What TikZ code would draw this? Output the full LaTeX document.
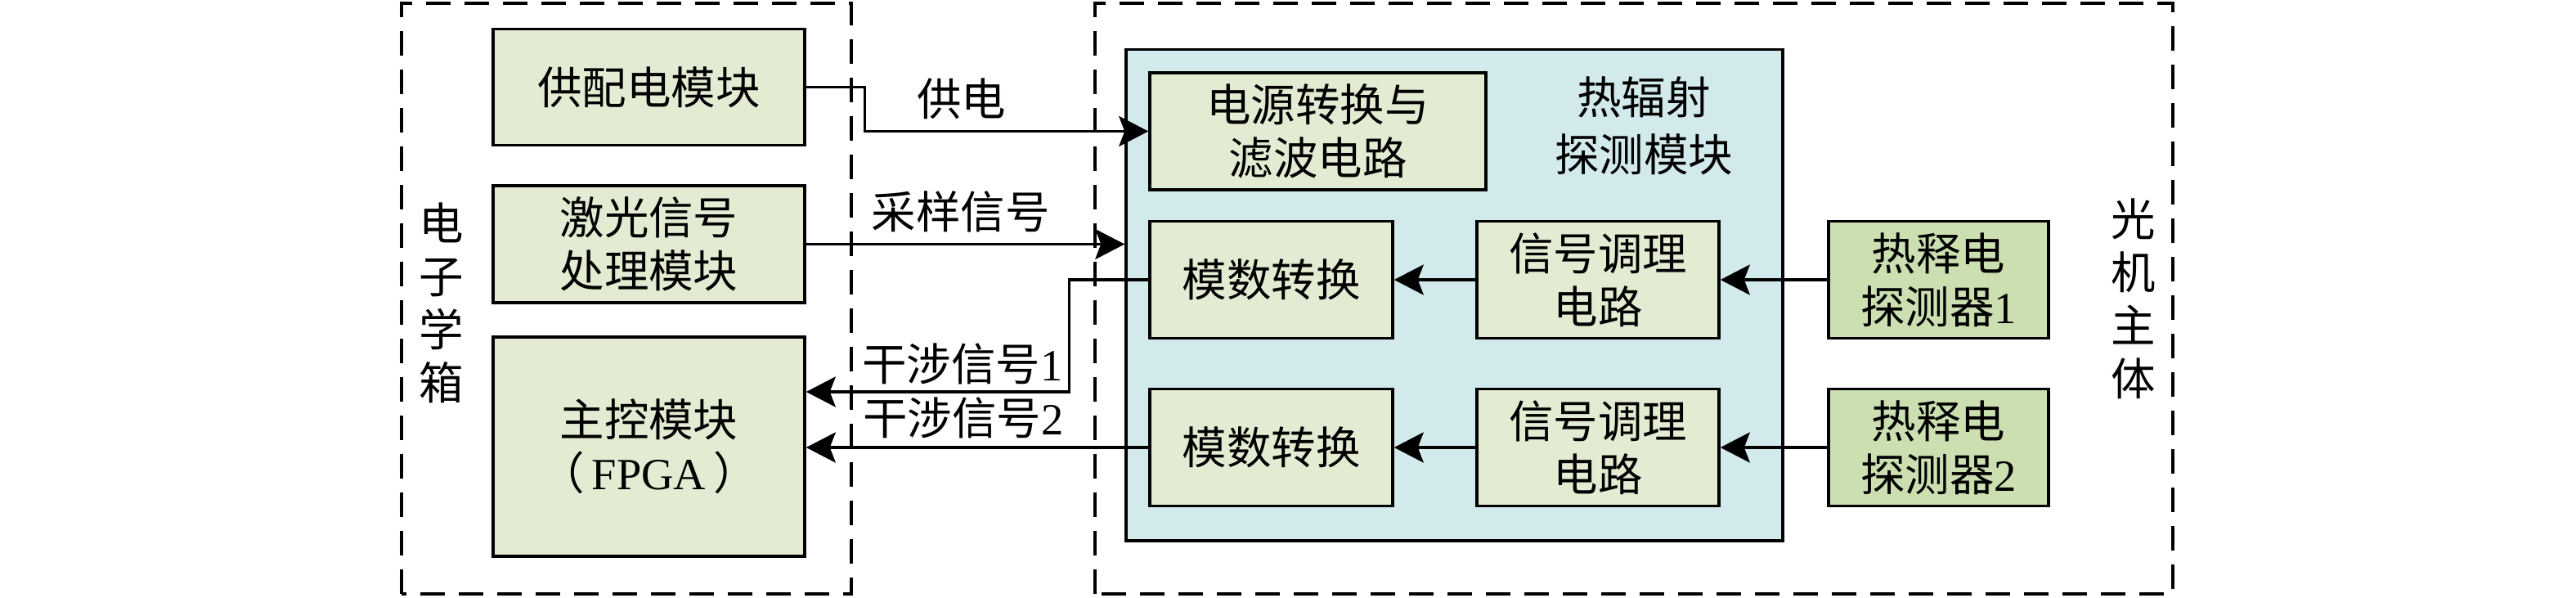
\documentclass[tikz,border=0pt]{standalone}
\usepackage{fontspec}
\setmainfont{Liberation Serif}
\newfontfamily\cjk{Noto Sans CJK SC}
\usepackage{tikz}
\usetikzlibrary{arrows.meta,backgrounds}
\newcommand{\zh}[1]{{\cjk #1}}
\definecolor{boxgreen}{RGB}{227,236,210}
\definecolor{detgreen}{RGB}{204,223,176}
\definecolor{moduleblue}{RGB}{210,234,236}

\begin{document}
\begin{tikzpicture}

\pgfdeclarelayer{background}
\pgfsetlayers{background,main}

\tikzstyle{block} = [draw=black, line width=1pt, fill=boxgreen, text centered, minimum height=1.43cm, inner sep=0pt, font=\fontsize{15.5pt}{18.5pt}\selectfont]
\tikzstyle{detblock} = [block, fill=detgreen]
\tikzstyle{textblock} = [text centered, inner sep=0pt, font=\fontsize{15.5pt}{18.5pt}\selectfont]

\tikzset{
  sig arrow/.style={-{Stealth[length=0.36cm,width=0.37cm,inset=0.07cm]}, line width=0.95pt},
  housing/.style={draw=black, line width=1pt, dash pattern=on 0.3cm off 0.17cm}
}

\coordinate (anchor) at (0,0);
\useasboundingbox (anchor) rectangle +(31.5,7.3);

%Electronics box: left

\path (anchor)+(7.935,6.235) node (gpd) [block, minimum width=3.81cm, minimum height=1.42cm] {\begin{minipage}[c]{3.5cm}
	\begin{center}
	\zh{供配电模块}
	\end{center}
\end{minipage}};

\path (gpd)+(0,-1.92) node (laser) [block, minimum width=3.81cm] {\begin{minipage}[c]{3.5cm}
	\begin{center}
	\zh{激光信号}\\
	\zh{处理模块}
	\end{center}
\end{minipage}};

\path (laser)+(0,-2.475) node (fpga) [block, minimum width=3.81cm, minimum height=2.68cm] {\begin{minipage}[c]{3.5cm}
	\begin{center}
	\zh{主控模块}\\
	\zh{（}\,FPGA\,\zh{）}
	\end{center}
\end{minipage}};

\path (anchor)+(5.40,3.6) node (ebox_label) [textblock] {\begin{minipage}[c]{1em}
	\centering
	\zh{电}\\\zh{子}\\\zh{学}\\\zh{箱}
\end{minipage}};

%Thermal radiation module: middle

\path (anchor)+(17.785,3.6925) node (module) [draw=black, line width=1pt, fill=moduleblue, minimum width=8.03cm, minimum height=6.005cm] {};

\path (anchor)+(16.115,5.695) node (pwr) [block, minimum width=4.11cm] {\begin{minipage}[c]{3.8cm}
	\begin{center}
	\zh{电源转换与}\\
	\zh{滤波电路}
	\end{center}
\end{minipage}};

\path (pwr)+(3.985,0.065) node (module_label) [textblock] {\begin{minipage}[c]{3cm}
	\begin{center}
	\fontsize{15.5pt}{19.9pt}\selectfont
	\zh{热辐射}\\
	\zh{探测模块}
	\end{center}
\end{minipage}};

\path (anchor)+(15.545,3.88) node (adc1) [block, minimum width=2.97cm] {\begin{minipage}[c]{2.8cm}
	\begin{center}
	\zh{模数转换}
	\end{center}
\end{minipage}};

\path (adc1)+(0,-2.05) node (adc2) [block, minimum width=2.97cm] {\begin{minipage}[c]{2.8cm}
	\begin{center}
	\zh{模数转换}
	\end{center}
\end{minipage}};

\path (adc1)+(3.995,0) node (cond1) [block, minimum width=2.96cm] {\begin{minipage}[c]{2.8cm}
	\begin{center}
	\zh{信号调理}\\
	\zh{电路}
	\end{center}
\end{minipage}};

\path (adc2)+(3.995,0) node (cond2) [block, minimum width=2.96cm] {\begin{minipage}[c]{2.8cm}
	\begin{center}
	\zh{信号调理}\\
	\zh{电路}
	\end{center}
\end{minipage}};

%Detectors: right

\path (cond1)+(4.165,0) node (det1) [detblock, minimum width=2.69cm] {\begin{minipage}[c]{2.5cm}
	\begin{center}
	\zh{热释电}\\
	\zh{探测器}1
	\end{center}
\end{minipage}};

\path (cond2)+(4.165,0) node (det2) [detblock, minimum width=2.69cm] {\begin{minipage}[c]{2.5cm}
	\begin{center}
	\zh{热释电}\\
	\zh{探测器}2
	\end{center}
\end{minipage}};

\path (anchor)+(26.09,3.65) node (opt_label) [textblock] {\begin{minipage}[c]{1em}
	\centering
	\zh{光}\\\zh{机}\\\zh{主}\\\zh{体}
\end{minipage}};

%Arrows

\path (gpd.east)+(0.72,0) coordinate (pwr_turn);
\draw [sig arrow] (gpd.east) -- (pwr_turn) |- (pwr.west);
\path (pwr_turn)+(1.18,-0.145) node (pwr_text) [textblock] {\zh{供电}};

\draw [sig arrow] (laser.east) -- (laser.east -| module.west);
\path (laser.east)+(1.89,0.395) node (sample_text) [textblock] {\zh{采样信号}};

\path (adc1.west)+(-0.97,0) coordinate (if1_turn);
\path (fpga.east)+(0,0.67) coordinate (fpga_in1);
\draw [sig arrow] (adc1.west) -- (if1_turn) |- (fpga_in1);
\path (fpga.east)+(1.91,1.01) node (if1_text) [textblock] {\zh{干涉信号}1};

\draw [sig arrow] (adc2.west) -- (adc2.west -| fpga.east);
\path (fpga.east)+(1.92,0.35) node (if2_text) [textblock] {\zh{干涉信号}2};

\draw [sig arrow] (cond1.west) -- (adc1.east);
\draw [sig arrow] (cond2.west) -- (adc2.east);
\draw [sig arrow] (det1.west) -- (cond1.east);
\draw [sig arrow] (det2.west) -- (cond2.east);

\begin{pgfonlayer}{background}

\path (anchor)+(4.91,0.04) coordinate (ebox_a);
\path (anchor)+(10.41,7.26) coordinate (ebox_b);
\path[housing] (ebox_a) rectangle (ebox_b);

\path (anchor)+(13.39,0.04) coordinate (obox_a);
\path (anchor)+(26.57,7.26) coordinate (obox_b);
\path[housing] (obox_a) rectangle (obox_b);

\end{pgfonlayer}

\end{tikzpicture}
\end{document}
